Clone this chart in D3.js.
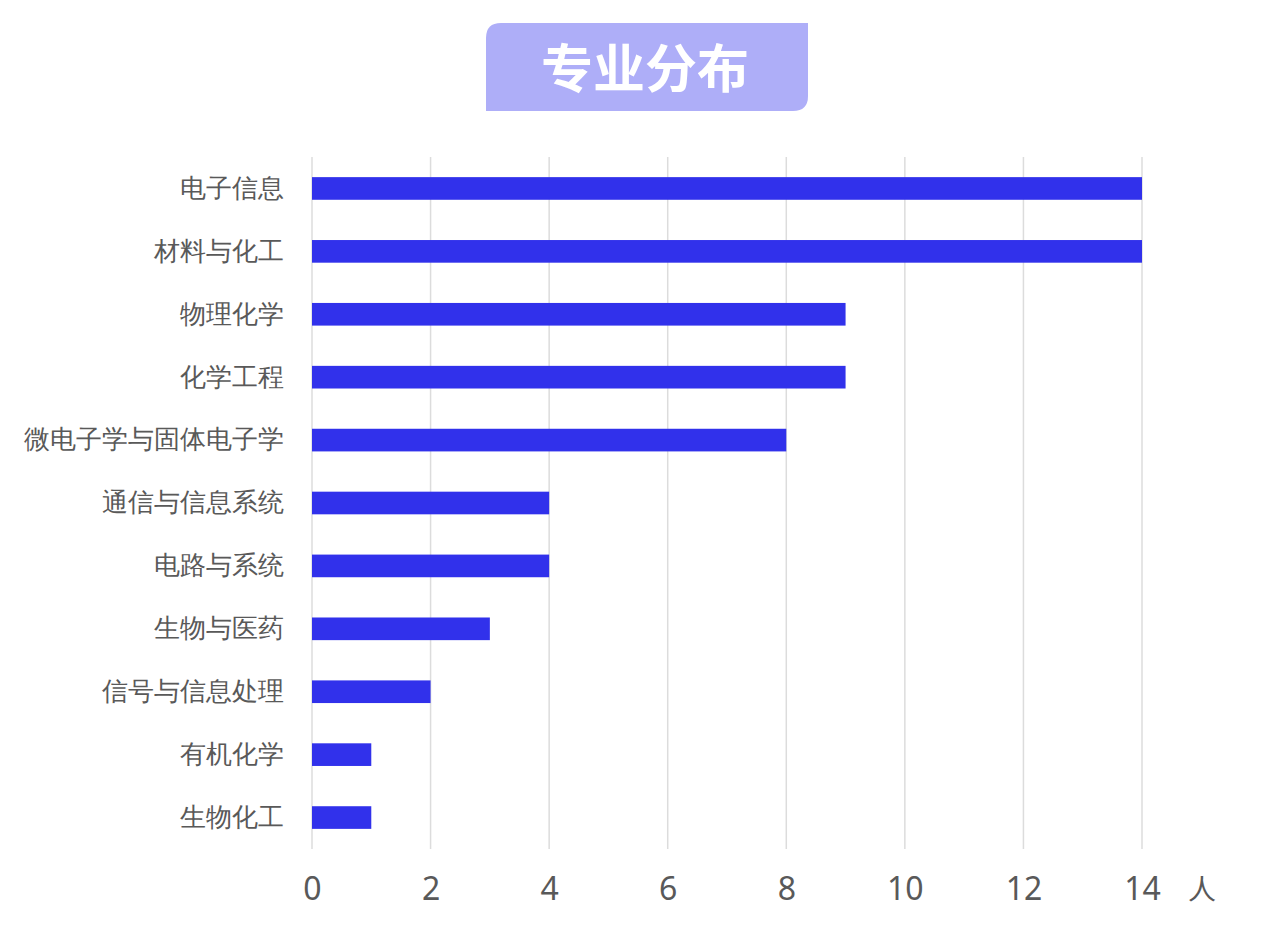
<!DOCTYPE html>
<html>
<head>
<meta charset="utf-8">
<script src="https://cdn.jsdelivr.net/npm/d3@7"></script>
<style>
  body { margin: 0; background: #fff; }
  svg { display: block; font-family: "Noto Sans CJK SC", "Noto Sans", sans-serif; }
</style>
</head>
<body>
<svg id="chart" width="1269" height="936"></svg>
<script>
(function (d3) {
    'use strict';

    // data
    var majors = ['电子信息', '材料与化工', '物理化学', '化学工程', '微电子学与固体电子学',
        '通信与信息系统', '电路与系统', '生物与医药', '信号与信息处理', '有机化学', '生物化工'];
    var counts = [14, 14, 9, 9, 8, 4, 4, 3, 2, 1, 1];
    var ticks = [0, 2, 4, 6, 8, 10, 12, 14];
    var title = '专业分布';
    var unit = '人';

    var svg = d3.select('#chart');

    var x = d3.scaleLinear().domain([0, 14]).range([312, 1142]);
    var y = d3.scaleBand().domain(majors).range([157, 849]).paddingInner(0.64).paddingOuter(0.32);

    // title badge: rounded top-left and bottom-right corners only
    var bx = 486, by = 23, bw = 322, bh = 88, r = 15;
    svg.append('path')
        .attr('d', 'M' + (bx + r) + ',' + by +
            'H' + (bx + bw) +
            'V' + (by + bh - r) +
            'Q' + (bx + bw) + ',' + (by + bh) + ' ' + (bx + bw - r) + ',' + (by + bh) +
            'H' + bx +
            'V' + (by + r) +
            'Q' + bx + ',' + by + ' ' + (bx + r) + ',' + by + 'Z')
        .attr('fill', '#aeaef8');
    svg.append('text')
        .attr('x', 645)
        .attr('y', 69)
        .attr('dy', '0.36em')
        .attr('text-anchor', 'middle')
        .attr('fill', '#fff')
        .attr('font-size', 52)
        .attr('font-weight', 'bold')
        .text(title);

    // grid lines
    svg.append('g').selectAll('line')
        .data(ticks)
        .join('line')
        .attr('x1', function (d) { return x(d); })
        .attr('x2', function (d) { return x(d); })
        .attr('y1', 157)
        .attr('y2', 849)
        .attr('stroke', '#dcdcdc')
        .attr('stroke-width', 1.5);

    // x axis labels
    var xAxis = svg.append('g')
        .attr('transform', 'translate(0,' + 849 + ')')
        .call(d3.axisBottom(x).tickValues(ticks).tickSize(0).tickPadding(28));
    xAxis.select('.domain').remove();
    xAxis.selectAll('text')
        .attr('fill', '#595959')
        .attr('font-size', 32)
        .attr('font-family', '"Noto Sans", sans-serif');

    svg.append('text')
        .attr('x', 1202)
        .attr('y', 890)
        .attr('dy', '0.36em')
        .attr('text-anchor', 'middle')
        .attr('fill', '#595959')
        .attr('font-size', 28)
        .text(unit);

    // y axis labels
    var yAxis = svg.append('g')
        .attr('transform', 'translate(312,0)')
        .call(d3.axisLeft(y).tickSize(0).tickPadding(28));
    yAxis.select('.domain').remove();
    yAxis.selectAll('text')
        .attr('fill', '#595959')
        .attr('font-size', 26);

    // bars
    svg.append('g').selectAll('rect')
        .data(majors)
        .join('rect')
        .attr('x', x(0))
        .attr('y', function (d) { return y(d); })
        .attr('width', function (d, i) { return x(counts[i]) - x(0); })
        .attr('height', y.bandwidth())
        .attr('fill', '#3131eb');

}(window.d3));
</script>
</body>
</html>
